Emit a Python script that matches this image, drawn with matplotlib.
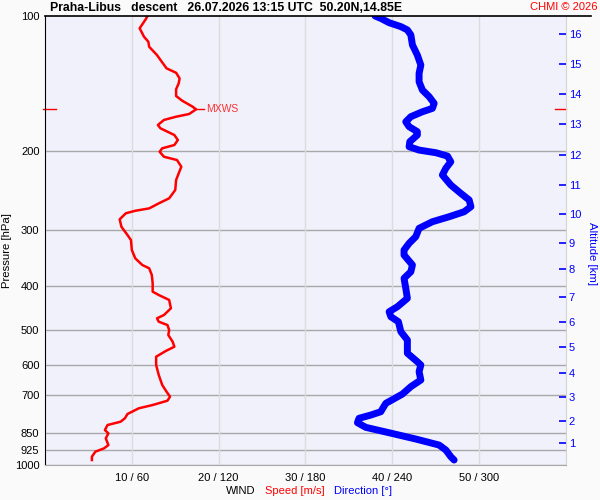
import numpy as np
import matplotlib
matplotlib.use("Agg")
import matplotlib.pyplot as plt

plt.rcParams['font.family'] = ['Liberation Sans', 'DejaVu Sans']

# wind speed profile (pressure hPa, speed m/s)
speed_p = [100, 101.7, 106.5, 111.2, 114.1, 117.1, 122.2, 125.3, 130.8, 133.8,
           137.7, 141.2, 145.6, 150.7, 154.4, 159.2, 161.4, 165.3, 167.6, 170.4,
           174.9, 177.9, 184.1, 188.9, 193.8, 197.1, 200.6, 205.8, 209.3, 216.6,
           224.0, 231.9, 244.1, 254.7, 261.4, 268.2, 271.5, 275.1, 283.7, 294.7,
           307.5, 315.5, 332.1, 346.6, 358.5, 364.7, 377.4, 393.8, 411.1, 418.2,
           429.0, 447.7, 463.4, 471.3, 479.6, 487.8, 500.5, 513.5, 531.4, 545.2,
           557.4, 573.9, 598.8, 630.3, 663.4, 686.7, 704.5, 719.1, 735.2, 747.7,
           769.9, 787.0, 801.0, 814.6, 835.9, 850.1, 872.2, 902.7, 918.1, 934.0,
           958.3, 974.8]
speed_ms = [11.8, 11.6, 10.9, 11.4, 11.9, 12.0, 12.9, 13.3, 14.0, 15.1,
            15.5, 15.4, 15.1, 15.1, 15.8, 17.0, 17.4, 16.6, 15.1, 13.7,
            13.0, 13.3, 14.9, 15.3, 14.9, 13.5, 13.2, 13.7, 15.2, 15.7,
            15.4, 15.1, 15.0, 14.3, 13.1, 12.0, 10.4, 9.3, 8.6, 8.8,
            9.5, 9.9, 10.0, 10.4, 11.2, 12.0, 12.3, 12.4, 12.4, 13.1,
            14.3, 14.5, 13.7, 12.9, 13.1, 14.1, 14.3, 14.2, 14.7, 14.9,
            13.9, 12.8, 12.8, 13.1, 13.5, 14.0, 14.4, 14.1, 12.4, 10.8,
            9.5, 9.2, 8.7, 7.2, 6.9, 7.3, 7.0, 7.3, 6.8, 5.8,
            5.4, 5.4]

# wind direction profile (pressure hPa, direction deg)
dir_p = [100, 101.2, 103.5, 105.6, 107.4, 110.2, 116.0, 122.2, 128.6, 134.2,
         140.1, 146.2, 151.2, 156.5, 160.6, 163.4, 167.6, 172.0, 176.4, 181.0,
         184.1, 190.5, 195.5, 198.9, 201.6, 205.1, 211.2, 218.3, 226.0, 237.9,
         248.3, 256.9, 265.9, 272.9, 279.9, 287.2, 297.1, 310.1, 320.8, 332.1,
         340.7, 358.5, 371.1, 383.9, 404.1, 425.4, 444.1, 455.7, 467.5, 479.6,
         504.8, 526.7, 563.7, 588.9, 598.8, 619.7, 646.7, 669.2, 695.0, 728.9,
         761.0, 774.1, 787.0, 805.0, 824.5, 847.6, 875.3, 902.7, 926.2, 958.3,
         974.8]
dir_deg = [228.1, 232.0, 237.8, 245.9, 250.4, 252.8, 253.9, 257.3, 259.7, 258.5,
           258.5, 260.8, 265.4, 268.9, 267.7, 260.8, 252.8, 249.3, 251.6, 257.3,
           257.3, 252.1, 251.6, 258.5, 270.1, 278.1, 280.4, 277.0, 274.6, 280.4,
           287.3, 293.1, 294.3, 289.6, 279.3, 267.7, 258.5, 256.2, 251.6, 248.1,
           248.1, 253.9, 252.8, 248.1, 249.3, 250.4, 243.5, 237.8, 239.0, 244.2,
           245.9, 250.4, 250.4, 257.3, 259.7, 258.5, 259.7, 252.8, 247.0, 235.5,
           232.0, 225.1, 217.0, 215.9, 221.7, 237.8, 256.2, 272.3, 277.0, 280.4,
           282.7]

# axis ticks
p_ticks = [100, 200, 300, 400, 500, 600, 700, 850, 925, 1000]
x_ticks = [10, 20, 30, 40, 50]
x_labels = ["10 / 60", "20 / 120", "30 / 180", "40 / 240", "50 / 300"]
alt_km = list(range(1, 17))
alt_p = [894.6, 796.8, 704.5, 624.9, 546.9, 480.1, 421.9, 366.6, 319.8, 276.1,
         237.9, 204.0, 174.0, 149.4, 127.9, 109.7]

fig = plt.figure(figsize=(6, 5), dpi=100, facecolor='#fafafa')
ax = fig.add_axes([0.075, 0.07, 0.8683, 0.898])
ax.set_facecolor('#f1f1fc')

ax.set_yscale('log')
ax.set_ylim(1000, 100)
ax.set_xlim(0, 60)

# grid
for p in p_ticks[1:]:
    ax.axhline(p, color='#a8a8a8', lw=1.0, zorder=1)
for x in x_ticks:
    ax.axvline(x, color='#dcdcdc', lw=1.0, zorder=1)

# profiles
ax.plot(np.array(dir_deg) / 6.0, dir_p, color='#0000ff', lw=5.0,
        solid_capstyle='round', solid_joinstyle='round', zorder=3)
ax.plot(speed_ms, speed_p, color='#ff0000', lw=1.8, zorder=4)

# max wind marker
i_max = int(np.argmax(speed_ms))
mx_s, mx_p = speed_ms[i_max], speed_p[i_max]
ax.plot([mx_s, mx_s + 0.9], [mx_p, mx_p], color='#ff0000', lw=1.0, zorder=4)
ax.text(mx_s + 1.1, mx_p, "MXWS", color='#ff3030', fontsize=7.5, va='center')
ax.axhline(mx_p, xmin=-0.004, xmax=0.021, color='#ff0000', lw=1.0, clip_on=False)
ax.axhline(mx_p, xmin=0.979, xmax=1.0, color='#ff0000', lw=1.0, clip_on=False)

# axes / spines
ax.spines['top'].set_visible(False)
ax.spines['left'].set_color('black')
ax.spines['right'].set_color('#d4d4d4')
ax.spines['bottom'].set_color('#a8a8a8')
ax.plot([0, 1.048], [1, 1], color='black', lw=1.2, transform=ax.transAxes,
        clip_on=False, zorder=5)

ax.set_yticks(p_ticks)
ax.set_yticklabels([str(p) for p in p_ticks])
ax.yaxis.set_minor_locator(matplotlib.ticker.NullLocator())
ax.set_xticks(x_ticks)
ax.set_xticklabels(x_labels)
ax.tick_params(axis='both', length=0, labelsize=8)
ax.tick_params(axis='y', pad=4)
ax.tick_params(axis='x', pad=6)

# altitude axis
ax2 = ax.twinx()
ax2.set_yscale('log')
ax2.set_ylim(1000, 100)
ax2.set_yticks(alt_p)
ax2.set_yticklabels([str(a) for a in alt_km])
ax2.yaxis.set_minor_locator(matplotlib.ticker.NullLocator())
ax2.tick_params(axis='y', direction='in', length=5, width=1.2, color='#0000ff',
                labelcolor='#0000ff', labelsize=8, pad=2)
for s in ax2.spines.values():
    s.set_visible(False)

# texts
fig.text(50 / 600, 1 - 8 / 500,
         "Praha-Libus   descent   26.07.2026 13:15 UTC  50.20N,14.85E",
         fontsize=8.8, fontweight='bold', va='center', ha='left')
fig.text(597 / 600, 1 - 7 / 500, "CHMI \u00a9 2026", color='#ff0000',
         fontsize=8, va='center', ha='right')
fig.text(7.5 / 600, 1 - 251 / 500, "Pressure [hPa]", rotation=90,
         fontsize=8.2, va='center', ha='center')
fig.text(592 / 600, 1 - 253 / 500, "Altitude [km]", rotation=270,
         color='#0000ff', fontsize=8.2, va='center', ha='center')
fig.text(226 / 600, 1 - 491 / 500, "WIND", fontsize=8, va='center')
fig.text(265 / 600, 1 - 491 / 500, "Speed [m/s]", color='#ff0000',
         fontsize=8, va='center')
fig.text(334 / 600, 1 - 491 / 500, "Direction [\u00b0]", color='#0000ff',
         fontsize=8, va='center')

plt.savefig("out.png", dpi=100, facecolor=fig.get_facecolor())
